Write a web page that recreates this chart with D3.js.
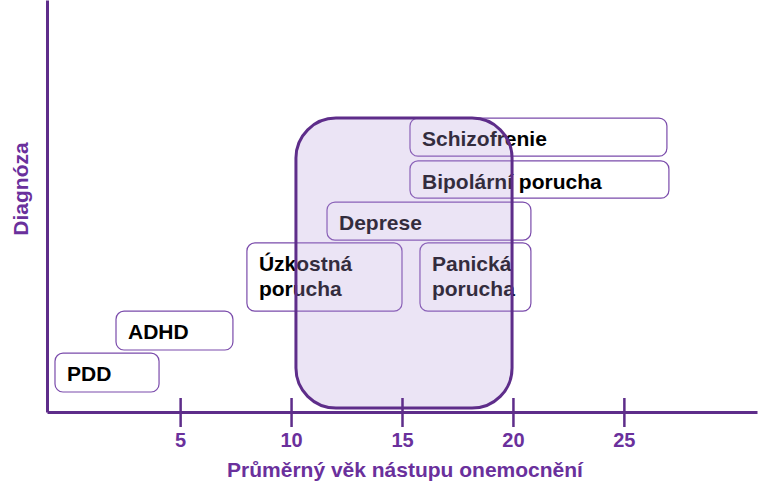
<!DOCTYPE html>
<html>
<head>
<meta charset="utf-8">
<script src="https://cdn.jsdelivr.net/npm/d3@7"></script>
<style>
  body { margin: 0; background: #fff; }
  svg { display: block; }
  text { font-family: "Liberation Sans", Arial, sans-serif; font-weight: bold; }
</style>
</head>
<body>
<div id="chart"></div>
<script>
// diagnoses with onset age range (years) and vertical row span
const labels = [["PDD"], ["ADHD"], ["Úzkostná", "porucha"], ["Panická", "porucha"], ["Deprese"], ["Bipolární porucha"], ["Schizofrenie"]];
const ageFrom = [-0.64, 2.11, 8.01, 15.81, 11.62, 15.36, 15.36];
const ageTo = [4.05, 7.38, 15.0, 20.81, 20.81, 27.03, 26.94];
const rowFrom = [0.01, 1.08, 2.07, 2.07, 3.88, 4.95, 6.02];
const rowTo = [1.0, 2.07, 3.81, 3.81, 4.85, 5.9, 6.99];

// highlighted window of typical onset
const windowAge = [10.22, 19.96];
const windowRow = [-0.4, 6.99];

const tickValues = [5, 10, 15, 20, 25];
const xTitle = "Průměrný věk nástupu onemocnění";
const yTitle = "Diagnóza";

const W = 759, H = 494;
const margin = { top: 0, right: 2, bottom: 82, left: 47 };
const purple = "#6a309c";
const axisColor = "#5e2d8a";

const svg = d3.select("#chart").append("svg")
    .attr("width", W)
    .attr("height", H);

const x = d3.scaleLinear().domain([-1, 31]).range([margin.left, W - margin.right]);
const y = d3.scaleLinear().domain([-0.5, 10]).range([H - margin.bottom, margin.top]);

const items = labels.map((l, i) => ({
    lines: l, a0: ageFrom[i], a1: ageTo[i], r0: rowFrom[i], r1: rowTo[i]
}));

// diagnosis boxes
const box = svg.append("g").selectAll("g")
    .data(items)
    .enter().append("g");

box.append("rect")
    .attr("x", d => x(d.a0))
    .attr("y", d => y(d.r1))
    .attr("width", d => x(d.a1) - x(d.a0))
    .attr("height", d => y(d.r0) - y(d.r1))
    .attr("rx", 8)
    .attr("fill", "#fff")
    .attr("stroke", "#7a4bab")
    .attr("stroke-width", 1.2);

box.each(function(d) {
    const t = d3.select(this).append("text")
        .attr("font-size", 21)
        .attr("fill", "#000");
    d.lines.forEach((s, j) => {
        t.append("tspan")
            .attr("x", x(d.a0) + 12)
            .attr("y", y(d.r1) + 28 + j * 25)
            .text(s);
    });
});

// onset window overlay
svg.append("rect")
    .attr("x", x(windowAge[0]))
    .attr("y", y(windowRow[1]))
    .attr("width", x(windowAge[1]) - x(windowAge[0]))
    .attr("height", y(windowRow[0]) - y(windowRow[1]))
    .attr("rx", 40)
    .attr("fill", "#b79ddc")
    .attr("fill-opacity", 0.28)
    .attr("stroke", axisColor)
    .attr("stroke-width", 3);

// x axis
const xAxis = svg.append("g")
    .attr("transform", `translate(0,${y(-0.5)})`)
    .call(d3.axisBottom(x).tickValues(tickValues).tickSize(15).tickSizeOuter(0));

xAxis.select(".domain")
    .attr("stroke", axisColor)
    .attr("stroke-width", 3);

xAxis.selectAll(".tick line")
    .attr("y1", -14)
    .attr("stroke", axisColor)
    .attr("stroke-width", 2.5);

xAxis.selectAll(".tick text")
    .attr("y", 35)
    .attr("dy", 0)
    .attr("fill", purple)
    .style("font-size", "20px")
    .style("font-weight", "bold")
    .style("font-family", "'Liberation Sans', Arial, sans-serif");

// y axis (line only)
const yAxis = svg.append("g")
    .attr("transform", `translate(${margin.left},0)`)
    .call(d3.axisLeft(y).tickValues([]).tickSizeOuter(0));

yAxis.select(".domain")
    .attr("stroke", axisColor)
    .attr("stroke-width", 3);

// titles
svg.append("text")
    .attr("x", 405)
    .attr("y", 477)
    .attr("text-anchor", "middle")
    .attr("font-size", 21)
    .attr("fill", purple)
    .text(xTitle);

svg.append("text")
    .attr("transform", "translate(28,189) rotate(-90)")
    .attr("text-anchor", "middle")
    .attr("font-size", 21)
    .attr("fill", purple)
    .text(yTitle);
</script>
</body>
</html>
